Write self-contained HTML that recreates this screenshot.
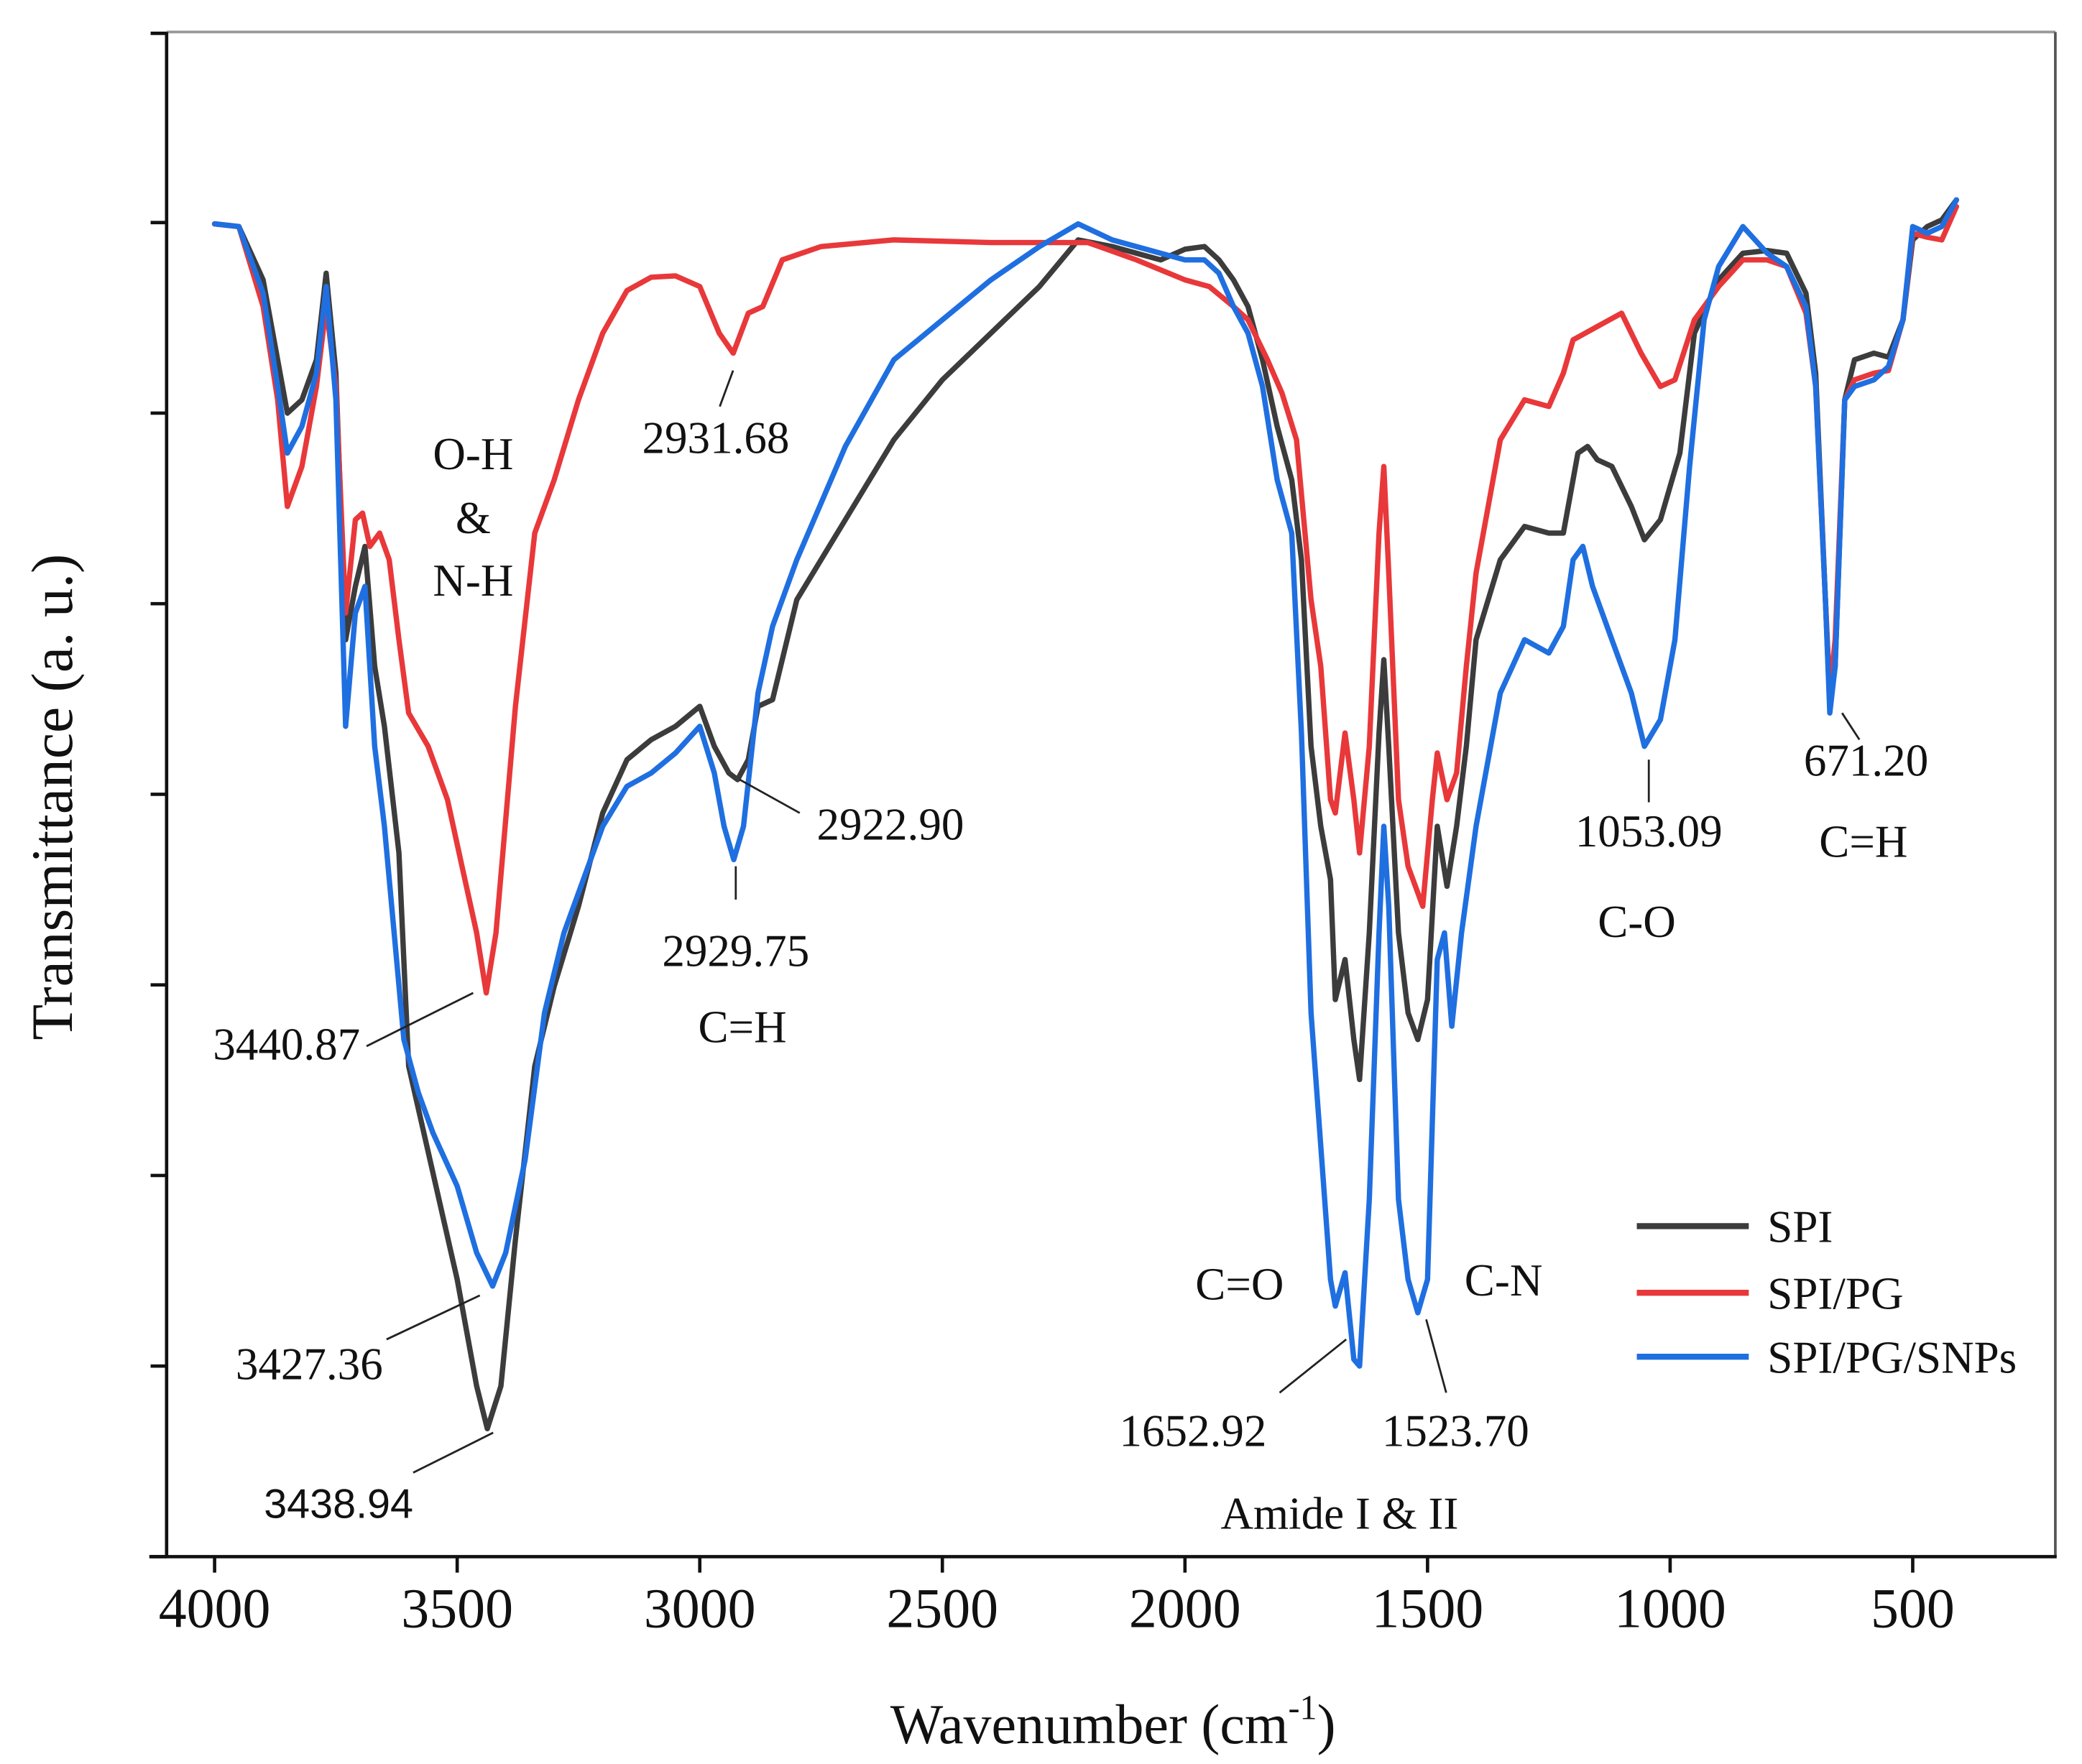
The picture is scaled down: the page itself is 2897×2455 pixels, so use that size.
<!DOCTYPE html>
<html><head><meta charset="utf-8"><style>
html,body{margin:0;padding:0;background:#fff;}
svg{display:block;}
text{font-family:"Liberation Serif",serif;fill:#111;}
</style></head><body>
<svg id="chart" width="2897" height="2455" viewBox="0 0 1562 1323.6" preserveAspectRatio="none" xmlns="http://www.w3.org/2000/svg">
<g id="axes"></g>
<g id="series"></g>
<g id="annots"></g>
<g id="legend"></g>
</svg>
<script>
const xTicks = [4000,3500,3000,2500,2000,1500,1000,500];
const yTicks = [0,14.3,28.6,42.9,57.2,71.5,85.8,100.1,114.3];
const spiW = [4000,3950,3900,3870,3850,3820,3790,3770,3750,3730,3710,3690,3670,3650,3620,3600,3550,3500,3460,3438,3410,3380,3340,3300,3250,3200,3150,3100,3050,3000,2970,2940,2922,2900,2880,2850,2800,2700,2600,2500,2400,2300,2220,2150,2050,2000,1960,1930,1900,1870,1840,1810,1780,1760,1740,1720,1700,1690,1670,1652,1640,1620,1600,1590,1580,1560,1540,1520,1500,1480,1460,1440,1420,1400,1350,1300,1250,1220,1190,1170,1150,1120,1080,1053,1020,980,950,900,850,800,760,720,700,680,671,660,640,620,580,550,520,500,470,440,410];
const spiT = [100,99.8,95.8,89.8,85.8,86.8,89.8,96.3,88.8,68.8,72.8,75.8,66.8,62.3,52.8,36.8,28.8,20.8,12.8,9.6,12.8,23.8,36.8,42.8,48.8,55.8,59.8,61.3,62.3,63.8,60.8,58.8,58.3,59.8,63.8,64.3,71.8,77.8,83.8,88.3,91.8,95.3,98.8,98.3,97.3,98.1,98.3,97.3,95.8,93.8,89.8,84.8,80.8,74.8,60.8,54.8,50.8,41.8,44.8,38.8,35.8,46.8,61.8,67.3,60.8,46.8,40.8,38.8,41.8,54.8,50.3,54.8,60.8,68.8,74.8,77.3,76.8,76.8,82.8,83.3,82.3,81.8,78.8,76.3,77.8,82.8,91.8,95.8,97.8,98,97.8,94.8,88.8,71.8,63.8,66.8,86.8,89.8,90.3,90,92.8,98.8,99.8,100.3,101.8];
const pgW = [4000,3950,3900,3870,3850,3820,3790,3770,3750,3730,3710,3695,3680,3660,3640,3620,3600,3560,3520,3490,3460,3440,3420,3380,3340,3300,3250,3200,3150,3100,3050,3000,2960,2931,2900,2870,2830,2750,2600,2400,2200,2100,2000,1950,1900,1870,1830,1800,1770,1740,1720,1700,1690,1670,1652,1640,1620,1600,1590,1580,1560,1540,1510,1490,1480,1460,1440,1420,1400,1350,1300,1250,1220,1200,1150,1100,1060,1020,990,950,900,850,800,760,720,700,680,671,660,640,620,580,550,520,500,470,440,410];
const pgT = [100,99.8,93.8,86.8,78.8,81.8,87.8,93.8,87.8,70.8,77.8,78.3,75.8,76.8,74.8,68.8,63.3,60.8,56.8,51.8,46.8,42.3,46.8,63.8,76.8,80.8,86.8,91.8,95,96,96.1,95.3,91.8,90.3,93.3,93.8,97.3,98.3,98.8,98.6,98.6,97.3,95.8,95.3,93.8,92.8,89.8,87.3,83.8,71.8,66.8,56.8,55.8,61.8,56.8,52.8,60.8,76.8,81.8,73.8,56.8,51.8,48.8,56.8,60.3,56.8,58.8,66.8,73.8,83.8,86.8,86.3,88.8,91.3,92.3,93.3,90.3,87.8,88.3,92.8,95.3,97.3,97.3,96.8,93.3,87.8,71.8,64.8,68.8,86.8,88.3,88.8,89,92.8,99.3,99,98.8,101.3];
const snpW = [4000,3950,3900,3870,3850,3820,3790,3770,3750,3730,3710,3690,3670,3650,3630,3610,3580,3550,3500,3460,3427,3400,3360,3320,3280,3250,3200,3150,3100,3050,3000,2970,2950,2930,2910,2880,2850,2800,2700,2600,2500,2400,2300,2220,2150,2050,2000,1960,1930,1900,1870,1840,1810,1780,1760,1740,1720,1700,1690,1670,1652,1640,1620,1600,1590,1580,1560,1540,1520,1500,1480,1465,1450,1430,1400,1350,1300,1250,1220,1200,1180,1160,1120,1080,1053,1020,990,960,930,900,850,800,760,720,700,680,671,660,640,620,580,550,520,500,470,440,410];
const snpT = [100,99.8,94.8,87.8,82.8,84.8,88.8,95.3,86.8,62.3,70.8,72.8,60.8,54.8,46.8,38.8,34.8,31.8,27.8,22.8,20.3,22.8,29.8,40.8,46.8,49.8,54.8,57.8,58.8,60.3,62.3,58.8,54.8,52.3,54.8,64.8,69.8,74.8,83.3,89.8,92.8,95.8,98.3,100,98.8,97.8,97.3,97.3,96.3,93.8,91.8,87.8,80.8,76.8,61.8,40.8,30.8,20.8,18.8,21.3,14.8,14.3,26.8,46.8,54.8,48.8,26.8,20.8,18.3,20.8,44.8,46.8,39.8,46.8,54.8,64.8,68.8,67.8,69.8,74.8,75.8,72.8,68.8,64.8,60.8,62.8,68.8,81.8,92.8,96.8,99.8,97.8,96.8,93.8,87.8,71.8,63.3,66.8,86.8,87.8,88.3,89.3,92.8,99.8,99.3,99.8,101.8];

const NS='http://www.w3.org/2000/svg';
const X0=125,Y0=1168,YT=24,XR=1542;
function xs(w){return 161+(4000-w)*0.364;}
function ys(t){return Y0-t*10;}
function mk(tag,attrs,parent){const e=document.createElementNS(NS,tag);for(const k in attrs)e.setAttribute(k,attrs[k]);parent.appendChild(e);return e;}
const axes=document.getElementById('axes');
let e;
e=mk('line',{x1:X0,y1:YT,x2:XR,y2:YT,stroke:'#999','stroke-width':2},axes);


e=mk('line',{x1:XR,y1:YT,x2:XR,y2:Y0,stroke:'#555','stroke-width':2},axes);


e=mk('line',{x1:X0,y1:YT,x2:X0,y2:Y0+1,stroke:'#111','stroke-width':2.5},axes);


e=mk('line',{x1:X0-13,y1:Y0,x2:XR+1,y2:Y0,stroke:'#111','stroke-width':2.5},axes);


yTicks.forEach(t=>{
  const l=mk('line',{x1:X0-12,y1:ys(t),x2:X0,y2:ys(t),stroke:'#111','stroke-width':2.5},axes);
  
  
});
xTicks.forEach(w=>{
  const l=mk('line',{x1:xs(w),y1:Y0,x2:xs(w),y2:Y0+12,stroke:'#111','stroke-width':2.5},axes);
  
  
  const t=mk('text',{x:xs(w),y:Y0+53,'text-anchor':'middle','font-size':42},axes);
  t.textContent=w;
  
  
});
e=mk('text',{x:835,y:1308,'text-anchor':'middle','font-size':42},axes);
e.innerHTML='Wavenumber (cm<tspan font-size="26" dy="-18">-1</tspan><tspan dy="18">)</tspan>';


e=mk('text',{x:0,y:0,'text-anchor':'middle','font-size':44,transform:'translate(54,598) rotate(-90)'},axes);
e.textContent='Transmittance (a. u.)';



const sg=document.getElementById('series');
function line(W,T,color,name){
  const p=W.map((w,i)=>xs(w).toFixed(1)+','+ys(T[i]).toFixed(1)).join(' ');
  const pl=mk('polyline',{points:p,fill:'none',stroke:color,'stroke-width':4,'stroke-linejoin':'round','stroke-linecap':'round'},sg);
  
  
}
line(spiW,spiT,'#3c3c3c','spi-line');
line(pgW,pgT,'#e8383a','spi-pg-line');
line(snpW,snpT,'#1f6fe0','spi-pg-snps-line');

const an=document.getElementById('annots');
const labels=[
 ['O-H',355,352],['&amp;',355,400],['N-H',355,447],
 ['2931.68',537,340],['3440.87',215,795],['2922.90',668,630],['2929.75',552,725],['C=H',557,782],
 ['3427.36',232,1035],['C=O',930,975],['C-N',1128,972],['1652.92',895,1085],['1523.70',1092,1085],['Amide I &amp; II',1005,1147],
 ['1053.09',1237,635],['C-O',1228,703],['671.20',1400,582],['C=H',1398,643]
];
labels.forEach(a=>{
  const t=mk('text',{x:a[1],y:a[2],'text-anchor':'middle','font-size':34},an);
  t.innerHTML=a[0];
  
  
});
e=mk('text',{x:254,y:1139,'text-anchor':'middle','font-size':31,style:'font-family:"Liberation Sans",sans-serif'},an);
e.textContent='3438.94';


const leaders=[[540,305,550,278],[275,785,355,745],[600,610,555,585],[552,650,552,675],[290,1005,360,972],[310,1105,370,1075],[960,1045,1010,1005],[1085,1045,1070,990],[1237,570,1237,602],[1382,535,1395,555]];
leaders.forEach(l=>{
  const e2=mk('line',{x1:l[0],y1:l[1],x2:l[2],y2:l[3],stroke:'#222','stroke-width':1.5},an);
  
  
});

const lg=document.getElementById('legend');
[['SPI','#3c3c3c',920],['SPI/PG','#e8383a',970],['SPI/PG/SNPs','#1f6fe0',1018]].forEach(l=>{
  const ln=mk('line',{x1:1228,y1:l[2],x2:1312,y2:l[2],stroke:l[1],'stroke-width':4.5},lg);
  
  
  const t=mk('text',{x:1326,y:l[2]+12,'font-size':34},lg);
  t.textContent=l[0];
  
  
});
</script>
</body></html>
